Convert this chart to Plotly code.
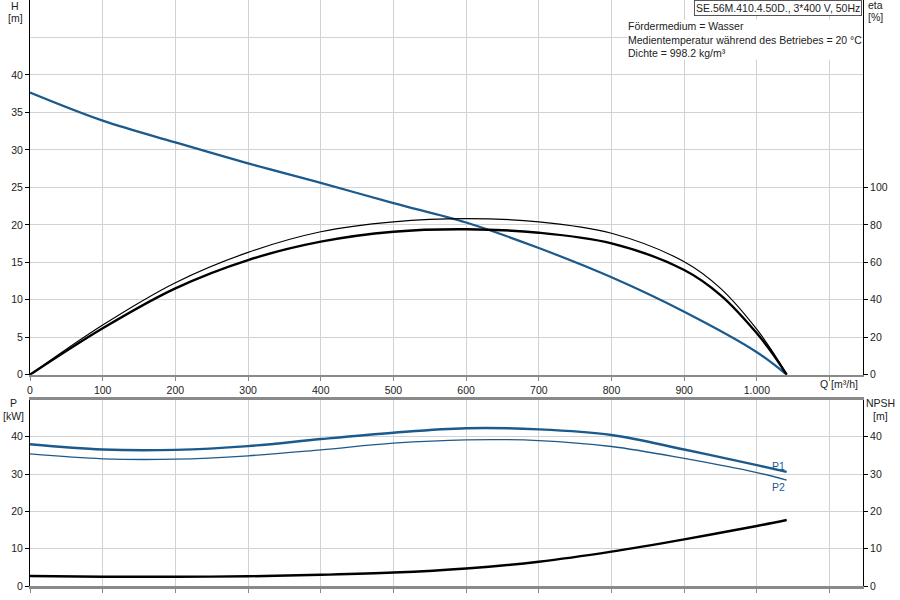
import plotly.graph_objects as go

# ---- data ----
Q_H = [0, 100, 200, 300, 400, 500, 600, 700, 800, 900, 1000, 1041]
H = [37.65, 33.9, 31.0, 28.2, 25.6, 22.9, 20.3, 16.9, 13.0, 8.4, 3.0, 0.0]

Q_eta = [0, 100, 200, 300, 400, 500, 600, 700, 800, 900, 950, 1000, 1023, 1041]
eta = [0, 24.8, 46.1, 61.2, 71.0, 76.3, 77.6, 75.8, 70.1, 55.9, 42.5, 22.1, 10.5, 0]
eta_thin = [0, 26.5, 49.1, 65.3, 76.3, 81.6, 83.3, 81.6, 75.5, 60.3, 46.1, 24.2, 11.4, 0]

Q_P = [0, 100, 200, 300, 400, 500, 600, 700, 800, 900, 1000, 1041]
P1 = [38.0, 36.6, 36.5, 37.5, 39.4, 41.1, 42.3, 42.0, 40.5, 36.6, 32.4, 30.6]
P2 = [35.4, 34.1, 34.0, 34.9, 36.5, 38.3, 39.2, 39.0, 37.4, 34.2, 30.4, 28.4]
NPSH = [2.7, 2.5, 2.5, 2.6, 3.0, 3.6, 4.7, 6.5, 9.2, 12.5, 16.1, 17.7]

x_ticks = [0, 100, 200, 300, 400, 500, 600, 700, 800, 900, 1000, 1100]
x_ticktext = ["0", "100", "200", "300", "400", "500", "600", "700", "800", "900", "1.000", ""]
h_ticks = [0, 5, 10, 15, 20, 25, 30, 35, 40]
eta_ticks = [0, 20, 40, 60, 80, 100]
p_ticks = [0, 10, 20, 30, 40]

# ---- layout geometry ----
L, R, T, B = 30, 863, 0, 586
def px(x):
    return (x - L) / (R - L)
def py(y):
    return (B - y) / (B - T)

BLUE = "#1c5a8c"
GRID = "#d2d2d2"
FONT = "Liberation Sans"
TXT = "#222222"

fig = go.Figure()
fig.add_trace(go.Scatter(x=Q_H, y=H, mode="lines", line=dict(color=BLUE, width=2.2, shape="spline"),
                         xaxis="x", yaxis="y", hoverinfo="skip"))
fig.add_trace(go.Scatter(x=Q_eta, y=eta_thin, mode="lines", line=dict(color="black", width=1.2, shape="spline"),
                         xaxis="x", yaxis="y2", hoverinfo="skip"))
fig.add_trace(go.Scatter(x=Q_eta, y=eta, mode="lines", line=dict(color="black", width=2.4, shape="spline"),
                         xaxis="x", yaxis="y2", hoverinfo="skip"))
fig.add_trace(go.Scatter(x=Q_P, y=P1, mode="lines", line=dict(color=BLUE, width=2.4, shape="spline"),
                         xaxis="x2", yaxis="y3", hoverinfo="skip"))
fig.add_trace(go.Scatter(x=Q_P, y=P2, mode="lines", line=dict(color=BLUE, width=1.3, shape="spline"),
                         xaxis="x2", yaxis="y3", hoverinfo="skip"))
fig.add_trace(go.Scatter(x=Q_P, y=NPSH, mode="lines", line=dict(color="black", width=2.4, shape="spline"),
                         xaxis="x2", yaxis="y4", hoverinfo="skip"))

tickfont = dict(family=FONT, size=10.5, color=TXT)
xcommon = dict(range=[0, 1146], tickvals=x_ticks, ticktext=x_ticktext, showgrid=True, gridcolor=GRID,
               gridwidth=1, showline=True, linecolor="#8a8a8a", linewidth=2.5, ticks="outside",
               ticklen=4, tickcolor="#8a8a8a", zeroline=False, tickfont=tickfont, mirror=True)

top_dom = [py(374.7), 1.0]
bot_dom = [0.0, py(399.5)]

fig.update_layout(
    width=900, height=600,
    margin=dict(l=L, r=900 - R, t=T, b=600 - B, pad=0, autoexpand=False),
    paper_bgcolor="white", plot_bgcolor="white",
    showlegend=False,
    font=dict(family=FONT, size=10.5, color=TXT),
    xaxis=dict(**xcommon, anchor="y", domain=[0, 1], automargin=False),
    xaxis2=dict(**xcommon, anchor="y3", domain=[0, 1], showticklabels=False, automargin=False),
    yaxis=dict(domain=top_dom, range=[0, 50], tickvals=h_ticks, showgrid=True, gridcolor=GRID,
               showline=True, linecolor="black", linewidth=1, ticks="outside", ticklen=4,
               tickcolor="black", zeroline=False, tickfont=tickfont, automargin=False,
               minor=dict(tickvals=[45], showgrid=True, gridcolor=GRID, ticks="")),
    yaxis2=dict(overlaying="y", side="right", anchor="x", range=[0, 200], tickvals=eta_ticks,
                showgrid=False, showline=True, linecolor="black", linewidth=1, ticks="outside",
                ticklen=4, tickcolor="black", zeroline=False, tickfont=tickfont, automargin=False),
    yaxis3=dict(domain=bot_dom, anchor="x2", range=[0, 50], tickvals=p_ticks, showgrid=True,
                gridcolor=GRID, showline=True, linecolor="black", linewidth=1, ticks="outside",
                ticklen=4, tickcolor="black", zeroline=False, tickfont=tickfont, automargin=False),
    yaxis4=dict(overlaying="y3", side="right", anchor="x2", range=[0, 50], tickvals=p_ticks,
                showgrid=False, showline=True, linecolor="black", linewidth=1, ticks="outside",
                ticklen=4, tickcolor="black", zeroline=False, tickfont=tickfont, automargin=False),
)

def label(text, x, y, xanchor="center", yanchor="middle", color=TXT, size=10.5, **kw):
    fig.add_annotation(text=text, x=px(x), y=py(y), xref="paper", yref="paper", showarrow=False,
                       xanchor=xanchor, yanchor=yanchor, font=dict(family=FONT, size=size, color=color), **kw)

label("H", 15, 6)
label("[m]", 15, 18)
label("eta", 875, 5)
label("[%]", 875, 17)
label("P", 13, 403)
label("[kW]", 13, 416)
label("NPSH", 880, 403)
label("[m]", 880, 416)
label("Q [m³/h]", 839, 384)
label("P1", 778, 466, color=BLUE)
label("P2", 778, 487, color=BLUE)
label("SE.56M.410.4.50D., 3*400 V, 50Hz", 777.5, 7.5, bgcolor="white", bordercolor="#555555",
      borderwidth=1, borderpad=1)
label("Fördermedium = Wasser<br>Medientemperatur während des Betriebes = 20 °C<br>Dichte = 998.2 kg/m³",
      627, 19, xanchor="left", yanchor="top", align="left", bgcolor="white", borderpad=0)

fig.write_html("out.html", config={"displayModeBar": False, "staticPlot": True},
               post_script="document.body.style.margin='0';document.body.style.overflow='hidden';")
